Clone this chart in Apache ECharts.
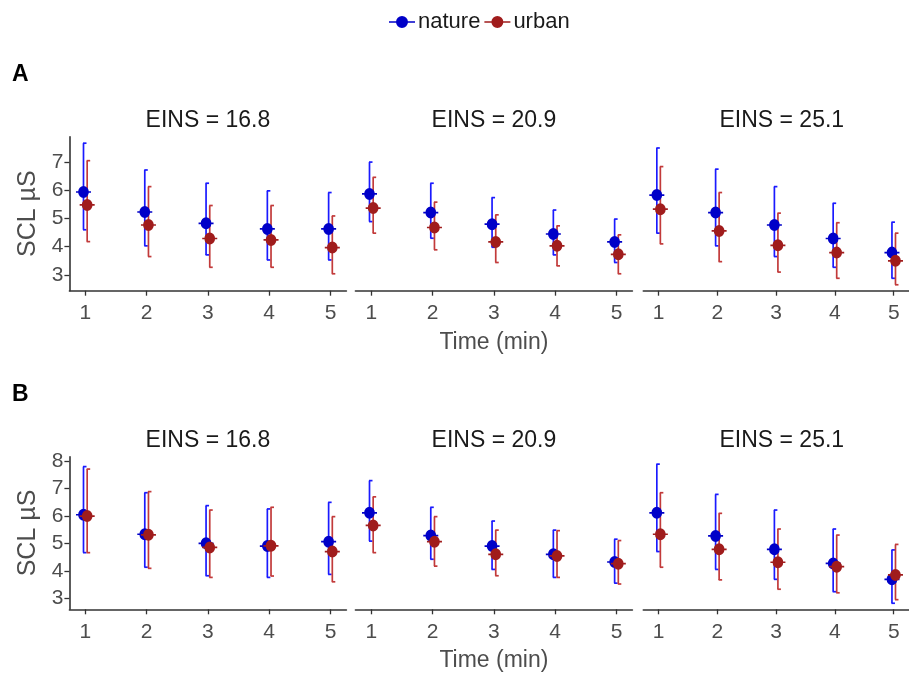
<!DOCTYPE html>
<html>
<head>
<meta charset="utf-8">
<script src="https://cdn.jsdelivr.net/npm/echarts@6/dist/echarts.min.js"></script>
<style>html,body{margin:0;padding:0;background:#fff;}#chart{width:909px;height:678px;}</style>
</head>
<body>
<div id="chart"></div>
<script>
// ---------- data ----------
const times = [1, 2, 3, 4, 5];
const facetLabels = ['EINS = 16.8', 'EINS = 20.9', 'EINS = 25.1'];
const panelLabels = ['A', 'B'];
const seriesNames = ['nature', 'urban'];
const yTicksA = [3, 4, 5, 6, 7];
const yTicksB = [3, 4, 5, 6, 7, 8];

// Panel A (one row per facet: EINS 16.8, 20.9, 25.1)
const A_nature_mean = [[5.94, 5.23, 4.83, 4.63, 4.63], [5.87, 5.21, 4.80, 4.45, 4.17], [5.83, 5.21, 4.77, 4.29, 3.79]];
const A_nature_lo   = [[4.60, 4.03, 3.71, 3.53, 3.53], [4.89, 4.30, 3.98, 3.71, 3.44], [4.48, 4.03, 3.65, 3.27, 2.88]];
const A_nature_hi   = [[7.67, 6.72, 6.25, 5.98, 5.92], [7.00, 6.25, 5.74, 5.30, 4.98], [7.50, 6.75, 6.13, 5.54, 4.87]];
const A_urban_mean  = [[5.48, 4.77, 4.29, 4.24, 3.97], [5.37, 4.68, 4.17, 4.03, 3.73], [5.33, 4.56, 4.05, 3.79, 3.50]];
const A_urban_lo    = [[4.18, 3.65, 3.27, 3.27, 3.04], [4.48, 3.89, 3.44, 3.32, 3.04], [4.10, 3.47, 3.10, 2.88, 2.65]];
const A_urban_hi    = [[7.05, 6.13, 5.46, 5.46, 5.09], [6.46, 5.58, 5.13, 4.74, 4.42], [6.84, 5.92, 5.19, 4.85, 4.48]];

// Panel B
const B_nature_mean = [[6.04, 5.33, 5.00, 4.90, 5.06], [6.11, 5.28, 4.90, 4.60, 4.32], [6.11, 5.27, 4.78, 4.27, 3.69]];
const B_nature_lo   = [[4.66, 4.13, 3.82, 3.76, 3.87], [5.08, 4.42, 4.05, 3.76, 3.55], [4.70, 4.05, 3.69, 3.24, 2.82]];
const B_nature_hi   = [[7.79, 6.84, 6.37, 6.25, 6.49], [7.28, 6.31, 5.81, 5.48, 5.15], [7.88, 6.78, 6.21, 5.52, 4.76]];
const B_urban_mean  = [[5.99, 5.31, 4.85, 4.91, 4.70], [5.65, 5.06, 4.60, 4.54, 4.26], [5.33, 4.78, 4.31, 4.15, 3.85]];
const B_urban_lo    = [[4.66, 4.09, 3.76, 3.81, 3.60], [4.66, 4.17, 3.82, 3.76, 3.52], [4.13, 3.67, 3.33, 3.20, 2.95]];
const B_urban_hi    = [[7.70, 6.88, 6.21, 6.31, 5.97], [6.69, 5.97, 5.48, 5.46, 5.10], [6.84, 6.09, 5.52, 5.30, 4.96]];

// ---------- layout / style ----------
const FONT = "'Liberation Sans', Arial, sans-serif";
const colors = {
  nature: { point: '#0000C8', bar: '#1a1aff' },
  urban:  { point: '#A01C1C', bar: '#C23A3A' }
};
const dodge = { nature: -0.03, urban: 0.03 };
const panelLefts = [69.4, 355.4, 643.3];
const panelWidth = 277;
const rows = [
  { label: 'A', top: 136.7, height: 154, yMin: 2.44, yMax: 7.9, ticks: yTicksA,
    data: { nature: [A_nature_mean, A_nature_lo, A_nature_hi], urban: [A_urban_mean, A_urban_lo, A_urban_hi] } },
  { label: 'B', top: 456.7, height: 152.6, yMin: 2.6, yMax: 8.15, ticks: yTicksB,
    data: { nature: [B_nature_mean, B_nature_lo, B_nature_hi], urban: [B_urban_mean, B_urban_lo, B_urban_hi] } }
];
const pointSymbol = 'path://M0,5.3 L14,5.3 L14,6.7 L0,6.7 Z M12,6 A5,5 0 1,1 2,6 A5,5 0 1,1 12,6 Z';

const grids = [], xAxes = [], yAxes = [], series = [], graphics = [];
let idx = 0;
rows.forEach((row, r) => {
  graphics.push({ type: 'text', left: 12, top: row.top - 74,
    style: { text: panelLabels[r], font: "bold 23px " + FONT, fill: '#000' } });
  for (let f = 0; f < 3; f++) {
    grids.push({ left: panelLefts[f], top: row.top, width: panelWidth, height: row.height, containLabel: false });
    xAxes.push({
      type: 'value', gridIndex: idx, min: 0.74, max: 5.26,
      splitLine: { show: false },
      axisLine: { show: true, onZero: false, lineStyle: { color: '#333', width: 1.6 } },
      axisTick: { show: true, customValues: times, length: 5, lineStyle: { color: '#333', width: 1.3 } },
      axisLabel: { show: true, customValues: times, margin: 12, color: '#4D4D4D', fontSize: 21, fontFamily: FONT },
      name: f === 1 ? 'Time (min)' : '', nameLocation: 'middle', nameGap: 40,
      nameTextStyle: { color: '#4D4D4D', fontSize: 23, fontFamily: FONT }
    });
    yAxes.push({
      type: 'value', gridIndex: idx, min: row.yMin, max: row.yMax,
      show: true,
      splitLine: { show: false },
      axisLine: { show: f === 0, lineStyle: { color: '#333', width: 1.6 } },
      axisTick: { show: f === 0, customValues: row.ticks, length: 5, lineStyle: { color: '#333', width: 1.3 } },
      axisLabel: { show: f === 0, customValues: row.ticks, margin: 6, color: '#4D4D4D', fontSize: 21, fontFamily: FONT },
      name: f === 0 ? 'SCL µS' : '', nameLocation: 'middle', nameGap: 29, nameRotate: 90,
      nameTextStyle: { color: '#4D4D4D', fontSize: 25, fontFamily: FONT }
    });
    graphics.push({ type: 'text', x: panelLefts[f] + panelWidth / 2, y: row.top - 16,
      style: { text: facetLabels[f], font: "23px " + FONT, fill: '#1a1a1a', textAlign: 'center', textVerticalAlign: 'middle' } });

    seriesNames.forEach(name => {
      const [mean, lo, hi] = row.data[name];
      const c = colors[name];
      series.push({
        type: 'custom', name: name, xAxisIndex: idx, yAxisIndex: idx, silent: true, z: 2,
        encode: { x: 0, y: [1, 2] },
        data: times.map((t, i) => [t + dodge[name], lo[f][i], hi[f][i]]),
        renderItem: function (params, api) {
          const x = api.value(0);
          const pTop = api.coord([x, api.value(2)]);
          const pBot = api.coord([x, api.value(1)]);
          const st = { stroke: c.bar, lineWidth: 1.7 };
          return { type: 'group', children: [
            { type: 'line', shape: { x1: pTop[0], y1: pTop[1], x2: pBot[0], y2: pBot[1] }, style: st },
            { type: 'line', shape: { x1: pTop[0] - 0.5, y1: pTop[1], x2: pTop[0] + 3, y2: pTop[1] }, style: st },
            { type: 'line', shape: { x1: pBot[0] - 0.5, y1: pBot[1], x2: pBot[0] + 3, y2: pBot[1] }, style: st }
          ] };
        }
      });
    });
    seriesNames.forEach(name => {
      const [mean] = row.data[name];
      series.push({
        type: 'scatter', name: name, xAxisIndex: idx, yAxisIndex: idx, z: 3,
        symbol: pointSymbol, symbolSize: [15, 12], symbolKeepAspect: false,
        itemStyle: { color: colors[name].point, opacity: 1 },
        data: times.map((t, i) => [t + dodge[name], mean[f][i]])
      });
    });
    idx++;
  }
});

const legendIcon = 'path://M0,5.2 L26,5.2 L26,6.8 L0,6.8 Z M19,6 A6,6 0 1,1 7,6 A6,6 0 1,1 19,6 Z';
const option = {
  animation: false,
  backgroundColor: '#fff',
  legend: {
    left: 384, top: 6, itemWidth: 26, itemHeight: 12, itemGap: 4,
    data: seriesNames.map(n => ({ name: n, icon: legendIcon, itemStyle: { color: colors[n].point } })),
    textStyle: { fontSize: 22, fontFamily: FONT, color: '#1a1a1a', padding: [0, 0, 0, -2] }
  },
  grid: grids, xAxis: xAxes, yAxis: yAxes, series: series, graphic: graphics
};
const chart = echarts.init(document.getElementById('chart'), null, { renderer: 'canvas' });
chart.setOption(option);
</script>
</body>
</html>
